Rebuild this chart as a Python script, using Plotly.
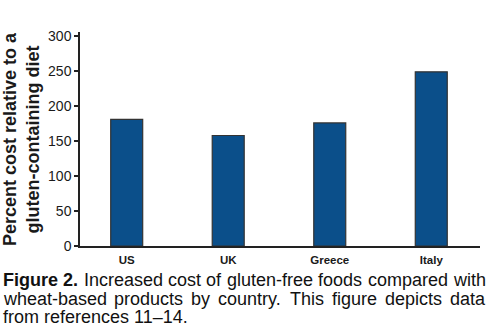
import re
import plotly.graph_objects as go

countries = ["US", "UK", "Greece", "Italy"]
percent_cost = [181, 158, 176, 249]
y_ticks = [0, 50, 100, 150, 200, 250, 300]

caption_lines = [
    "<b>Figure</b> <b>2.</b> Increased cost of gluten-free foods compared with",
    "wheat-based products by country. This figure depicts data",
    "from references 11–14.",
]
justify = [True, True, False]

W, H = 488, 329
L, R, T, B = 80, 8, 32, 83
ph = H - T - B
pw = W - L - R

def px_y(p):
    return (H - B - p) / ph

def px_x(p):
    return (p - L) / pw

FONT = "Liberation Sans, Arial, Helvetica, sans-serif"
CAP_SIZE = 18

# Arial / Liberation Sans advance widths (1/1000 em)
REG = {' ': 278, 'a': 556, 'b': 556, 'c': 500, 'd': 556, 'e': 556, 'f': 278, 'g': 556,
       'h': 556, 'i': 222, 'k': 500, 'l': 222, 'm': 833, 'n': 556, 'o': 556, 'p': 556,
       'r': 333, 's': 500, 't': 278, 'u': 556, 'w': 722, 'y': 500, 'T': 611, '.': 278,
       '-': 333, '1': 556, '4': 556, '–': 556, 'F': 611, 'I': 278, '2': 556}
BOLD = {'F': 611, 'i': 278, 'g': 611, 'u': 611, 'r': 389, 'e': 556, '2': 556, '.': 278, ' ': 278}

def word_width(w):
    bold = w.startswith("<b>")
    plain = re.sub(r"</?b>", "", w)
    table = BOLD if bold else REG
    return sum(table.get(ch, 556) for ch in plain) * CAP_SIZE / 1000.0

fig = go.Figure(go.Bar(
    x=countries, y=percent_cost, width=0.315,
    marker=dict(color="#0b4f8a", line=dict(color="#333333", width=1.2)),
))

fig.update_layout(
    width=W, height=H, margin=dict(l=L, r=R, t=T, b=B),
    paper_bgcolor="white", plot_bgcolor="white", showlegend=False,
    font=dict(family=FONT, color="#1a1a1a"),
)
fig.update_xaxes(
    range=[-0.46, 3.48], showline=True, linecolor="#222222", linewidth=1.5,
    showgrid=False, ticks="", tickfont=dict(size=11.5, family=FONT, weight="bold", color="#1a1a1a"),
    ticklabelstandoff=2,
)
fig.update_yaxes(
    range=[0, 306], tickvals=y_ticks, showline=True, linecolor="#222222", linewidth=1.5,
    showgrid=False, zeroline=False, ticks="outside", ticklen=4, tickwidth=1.5, tickcolor="#222222",
    tickfont=dict(size=14, family=FONT, color="#1a1a1a"),
)

fig.add_annotation(
    text="<b>Percent cost relative to a<br>gluten-containing diet</b>",
    xref="paper", yref="paper", x=px_x(21), y=px_y(139), xanchor="center", yanchor="middle",
    textangle=-90, showarrow=False, font=dict(size=18, family=FONT, color="#1a1a1a"),
)

x_left, x_right = 2, 484
baselines = [286, 304.5, 323]
for line, bl, just in zip(caption_lines, baselines, justify):
    ypos = px_y(bl - 6)
    if not just:
        fig.add_annotation(
            text=line, xref="paper", yref="paper", x=px_x(x_left), y=ypos,
            xanchor="left", yanchor="middle", showarrow=False, align="left",
            font=dict(size=CAP_SIZE, family=FONT, color="#111111"), borderpad=0,
        )
        continue
    words = line.split(" ")
    widths = [word_width(w) for w in words]
    gap = (x_right - x_left - sum(widths)) / (len(words) - 1)
    cur = x_left
    for w, wd in zip(words, widths):
        fig.add_annotation(
            text=w, xref="paper", yref="paper", x=px_x(cur), y=ypos,
            xanchor="left", yanchor="middle", showarrow=False, align="left",
            font=dict(size=CAP_SIZE, family=FONT, color="#111111"), borderpad=0,
        )
        cur += wd + gap

fig.write_html("out.html")
